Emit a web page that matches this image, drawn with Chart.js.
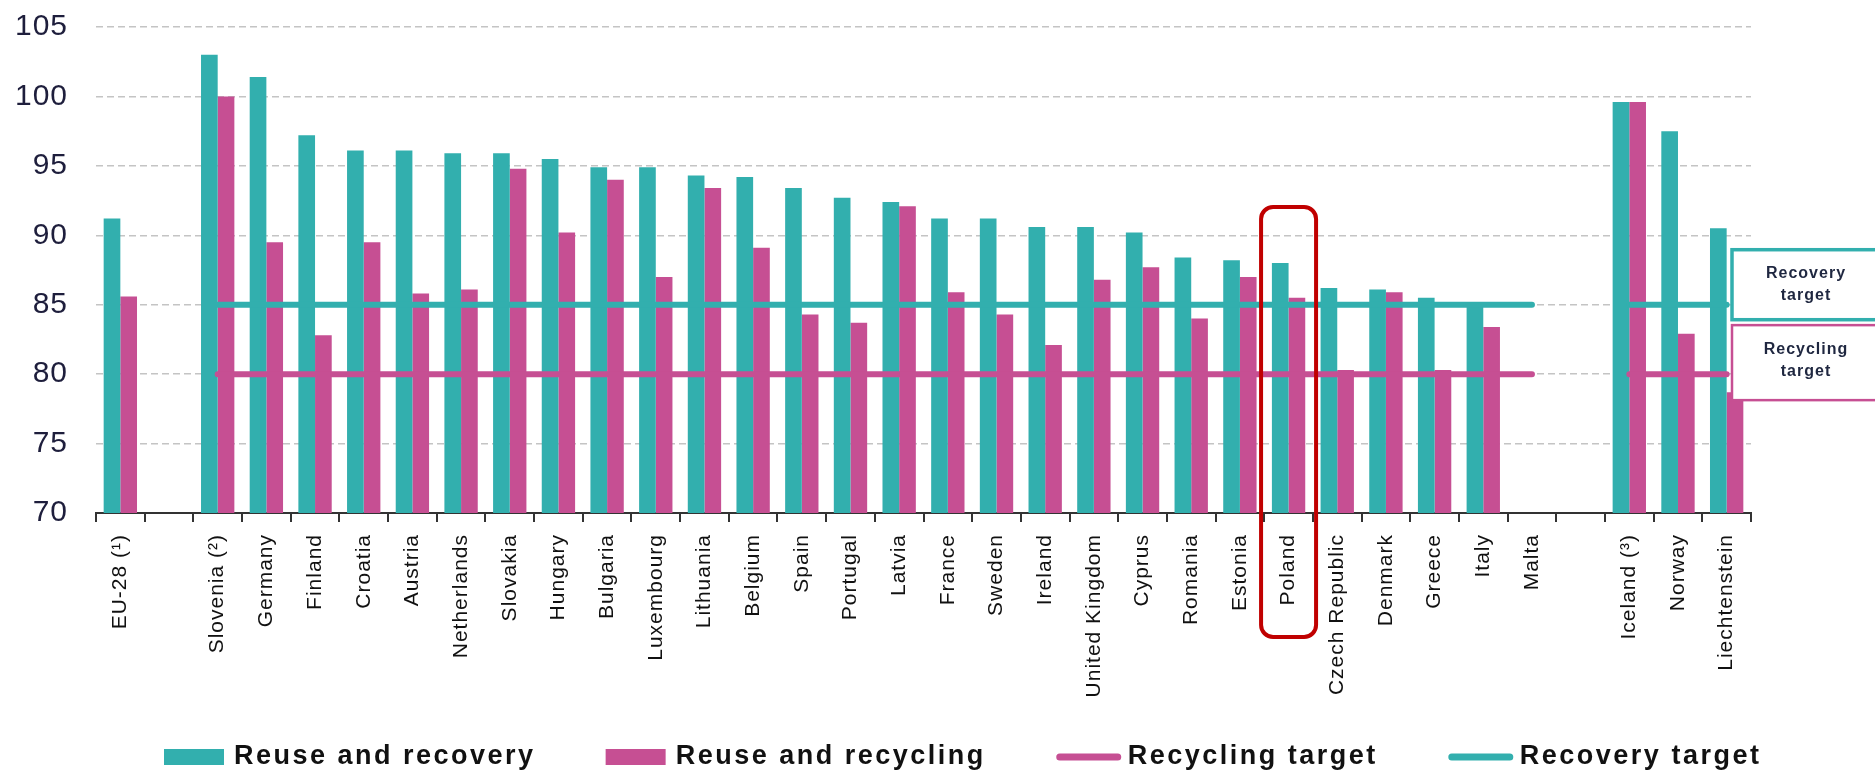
<!DOCTYPE html>
<html lang="en">
<head>
<meta charset="UTF-8">
<title>Packaging waste - reuse and recovery rates</title>
<script src="https://cdn.jsdelivr.net/npm/chart.js"></script>
<style>
  html, body { margin: 0; padding: 0; background: #fff; }
  #wrap { width: 1875px; height: 771px; }
</style>
</head>
<body>
<div id="wrap"><canvas id="chart" width="1875" height="771"></canvas></div>
<script>
// categories ('' = empty slot used as a gap)
const countries = ['EU-28 (¹)', '', 'Slovenia (²)', 'Germany', 'Finland', 'Croatia', 'Austria',
  'Netherlands', 'Slovakia', 'Hungary', 'Bulgaria', 'Luxembourg', 'Lithuania', 'Belgium', 'Spain',
  'Portugal', 'Latvia', 'France', 'Sweden', 'Ireland', 'United Kingdom', 'Cyprus', 'Romania',
  'Estonia', 'Poland', 'Czech Republic', 'Denmark', 'Greece', 'Italy', 'Malta', '',
  'Iceland (³)', 'Norway', 'Liechtenstein'];

const reuseRecovery = [91.2, null, 103.0, 101.4, 97.2, 96.1, 96.1, 95.9, 95.9, 95.5, 94.9, 94.9,
  94.3, 94.2, 93.4, 92.7, 92.4, 91.2, 91.2, 90.6, 90.6, 90.2, 88.4, 88.2, 88.0, 86.2, 86.1, 85.5,
  84.9, null, null, 99.6, 97.5, 90.5];

const reuseRecycling = [85.6, null, 100.0, 89.5, 82.8, 89.5, 85.8, 86.1, 94.8, 90.2, 94.0, 87.0,
  93.4, 89.1, 84.3, 83.7, 92.1, 85.9, 84.3, 82.1, 86.8, 87.7, 84.0, 87.0, 85.5, 80.3, 85.9, 80.3,
  83.4, null, null, 99.6, 82.9, 78.7];

const recyclingTarget = [null, null, 80, 80, 80, 80, 80, 80, 80, 80, 80, 80, 80, 80, 80, 80, 80,
  80, 80, 80, 80, 80, 80, 80, 80, 80, 80, 80, 80, 80, null, 80, 80, 80];

const recoveryTarget = [null, null, 85, 85, 85, 85, 85, 85, 85, 85, 85, 85, 85, 85, 85, 85, 85,
  85, 85, 85, 85, 85, 85, 85, 85, 85, 85, 85, 85, 85, null, 85, 85, 85];

const yTicks = [70, 75, 80, 85, 90, 95, 100, 105];

const TEAL = '#32afae';
const MAGENTA = '#c64f93';
const FONT = '"Liberation Sans", Arial, sans-serif';

// wider letters on the axis labels, like the original
const spacing = {
  id: 'spacing',
  beforeDraw(chart) { chart.ctx.letterSpacing = '1px'; },
  beforeDatasetsDraw(chart) { chart.ctx.letterSpacing = '0px'; }
};

const extras = {
  id: 'extras',
  afterDraw(chart) {
    const ctx = chart.ctx;
    const area = chart.chartArea;
    const x = chart.scales.x, y = chart.scales.y;

    // highlight box around Poland
    const px = x.getPixelForValue(countries.indexOf('Poland'));
    ctx.save();
    ctx.strokeStyle = '#c00000';
    ctx.lineWidth = 4;
    ctx.beginPath();
    ctx.roundRect(px - 27.5, 207, 55, 430, 12);
    ctx.stroke();
    ctx.restore();

    // target boxes on the right
    const bx = area.right - 19;
    const yr = y.getPixelForValue(85), yc = y.getPixelForValue(80);
    ctx.save();
    ctx.fillStyle = '#fff';
    ctx.fillRect(bx, yr - 56, 200, 72);
    ctx.fillRect(bx, yc - 49, 200, 75);
    ctx.strokeStyle = TEAL;
    ctx.lineWidth = 3.5;
    ctx.strokeRect(bx, yr - 55, 200, 70);
    ctx.strokeStyle = MAGENTA;
    ctx.lineWidth = 2.5;
    ctx.strokeRect(bx, yc - 49, 200, 75);
    ctx.fillStyle = '#1f2740';
    ctx.font = 'bold 16px ' + FONT;
    ctx.letterSpacing = '1px';
    ctx.textAlign = 'center';
    ctx.textBaseline = 'middle';
    ctx.fillText('Recovery', bx + 74, yr - 31);
    ctx.fillText('target', bx + 74, yr - 9);
    ctx.fillText('Recycling', bx + 74, yc - 25);
    ctx.fillText('target', bx + 74, yc - 3);
    ctx.restore();

    // legend along the bottom
    ctx.save();
    ctx.font = 'bold 27px ' + FONT;
    ctx.letterSpacing = '2.5px';
    ctx.textBaseline = 'middle';
    ctx.textAlign = 'left';
    const ly = 757;
    let lx = 164;
    chart.data.datasets.forEach(ds => {
      if (ds.type === 'line') {
        ctx.strokeStyle = ds.borderColor;
        ctx.lineWidth = 7;
        ctx.lineCap = 'round';
        ctx.beginPath();
        ctx.moveTo(lx + 4, ly);
        ctx.lineTo(lx + 62, ly);
        ctx.stroke();
        lx += 72;
      } else {
        ctx.fillStyle = ds.backgroundColor;
        ctx.fillRect(lx, ly - 8, 60, 16);
        lx += 70;
      }
      ctx.fillStyle = '#111';
      ctx.fillText(ds.label, lx, ly);
      lx += ctx.measureText(ds.label).width + 70;
    });
    ctx.restore();
  }
};

new Chart(document.getElementById('chart'), {
  data: {
    labels: countries,
    datasets: [
      { type: 'bar', label: 'Reuse and recovery', data: reuseRecovery,
        backgroundColor: TEAL, order: 2 },
      { type: 'bar', label: 'Reuse and recycling', data: reuseRecycling,
        backgroundColor: MAGENTA, order: 2 },
      { type: 'line', label: 'Recycling target', data: recyclingTarget,
        borderColor: MAGENTA, borderWidth: 6, pointRadius: 0, spanGaps: false,
        borderCapStyle: 'round', order: 1 },
      { type: 'line', label: 'Recovery target', data: recoveryTarget,
        borderColor: TEAL, borderWidth: 6, pointRadius: 0, spanGaps: false,
        borderCapStyle: 'round', order: 1 }
    ]
  },
  options: {
    responsive: false,
    animation: false,
    devicePixelRatio: 1,
    layout: { padding: { top: 27, right: 124, left: 0, bottom: 0 } },
    datasets: { bar: { categoryPercentage: 0.685, barPercentage: 1.0, borderWidth: 0 } },
    plugins: { legend: { display: false }, tooltip: { enabled: false } },
    scales: {
      x: {
        afterFit(s) { s.height = 258; },
        grid: { offset: true, drawOnChartArea: false, tickLength: 9, color: '#333', lineWidth: 2 },
        border: { display: true, color: '#333', width: 2 },
        ticks: { autoSkip: false, minRotation: 90, maxRotation: 90, padding: 12,
                 color: '#111', font: { family: FONT, size: 21 } }
      },
      y: {
        min: 70, max: 105,
        afterFit(s) { s.width = 96; s.paddingTop = 0; s.paddingBottom = 0; },
        afterBuildTicks(s) { s.ticks = yTicks.map(v => ({ value: v })); },
        grid: { color: '#c4c4c4', lineWidth: 1.5, drawTicks: false },
        border: { display: false, dash: [7, 4] },
        ticks: { padding: 28, color: '#1e1e3c', font: { family: FONT, size: 30 } }
      }
    }
  },
  plugins: [spacing, extras]
});
</script>
</body>
</html>
